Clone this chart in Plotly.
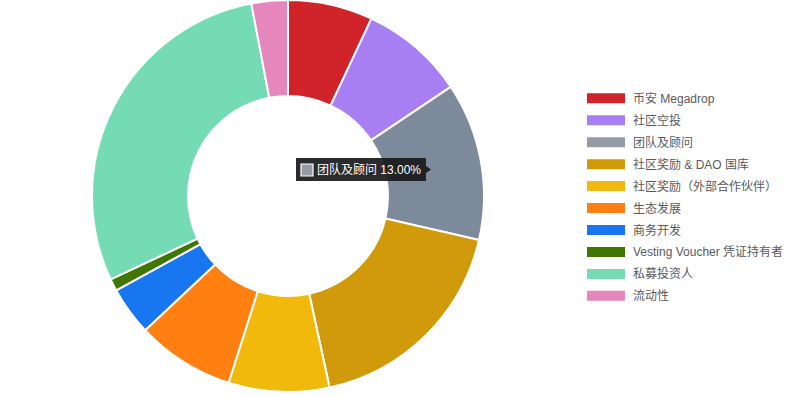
import plotly.graph_objects as go

labels = ["币安 Megadrop", "社区空投", "团队及顾问", "社区奖励 & DAO 国库",
          "社区奖励（外部合作伙伴）", "生态发展", "商务开发",
          "Vesting Voucher 凭证持有者", "私募投资人", "流动性"]
values = [7.0, 8.6, 13.0, 18.0, 8.3, 8.1, 4.0, 1.0, 29.0, 3.0]
colors = ["#d0232a", "#a87ff3", "#7c8a9c", "#d09a0a", "#f0b90b",
          "#ff7f10", "#1877f0", "#417600", "#74dbb4", "#e586bc"]
legend_colors = ["#d0232a", "#a87ff3", "#969ca6", "#d09a0a", "#f0b90b",
                 "#ff7f10", "#1877f0", "#417600", "#74dbb4", "#e586bc"]
tooltip_index = 2

W, H = 792, 396
FONT = "Liberation Sans, Noto Sans CJK SC, sans-serif"

cx, cy, r = 288, 195, 197
fig = go.Figure(go.Pie(
    labels=labels, values=values, sort=False, direction="clockwise", rotation=0,
    hole=0.51, textinfo="none", hoverinfo="label+percent",
    marker=dict(colors=colors, line=dict(color="white", width=2)),
    domain=dict(x=[(cx - r) / W, (cx + r) / W],
                y=[max(0, (H - cy - r) / H), min(1, (H - cy + r) / H)]),
    showlegend=False,
))

shapes = []
annotations = []
x0, y0, dy = 587, 98.3, 21.95
for i, (lab, col) in enumerate(zip(labels, legend_colors)):
    yc = y0 + i * dy
    shapes.append(dict(type="rect", xref="paper", yref="paper",
                       x0=x0 / W, x1=(x0 + 38) / W,
                       y0=1 - (yc + 5) / H, y1=1 - (yc - 5) / H,
                       fillcolor=col, line=dict(width=0)))
    annotations.append(dict(x=631 / W, y=1 - yc / H, xref="paper", yref="paper",
                            text=lab, showarrow=False, xanchor="left", yanchor="middle",
                            font=dict(family=FONT, size=12, color="#5a5a5a")))

# tooltip imitation
tx0, tx1, ty0, ty1 = 296, 426, 158, 181
shapes.append(dict(type="path", xref="paper", yref="paper",
                   path=f"M {tx0/W},{1-ty0/H} L {tx1/W},{1-ty0/H} L {tx1/W},{1-(ty0+8)/H} "
                        f"L {(tx1+5)/W},{1-(ty0+ty1)/2/H} L {tx1/W},{1-(ty1-8)/H} "
                        f"L {tx1/W},{1-ty1/H} L {tx0/W},{1-ty1/H} Z",
                   fillcolor="rgba(25,25,28,0.92)", line=dict(width=0)))
shapes.append(dict(type="rect", xref="paper", yref="paper",
                   x0=301 / W, x1=313 / W, y0=1 - 176 / H, y1=1 - 164 / H,
                   fillcolor=legend_colors[tooltip_index], line=dict(color="white", width=1.2)))
annotations.append(dict(x=315 / W, y=1 - 169.5 / H, xref="paper", yref="paper",
                        text=f"{labels[tooltip_index]} {values[tooltip_index]/sum(values)*100:.2f}%",
                        showarrow=False, xanchor="left", yanchor="middle",
                        font=dict(family=FONT, size=12, color="white")))

fig.update_layout(width=W, height=H, margin=dict(l=0, r=0, t=0, b=0),
                  paper_bgcolor="white", plot_bgcolor="white",
                  shapes=shapes, annotations=annotations,
                  font=dict(family=FONT))
fig.write_html("out.html", config={"displayModeBar": False},
               post_script="document.body.style.margin='0';")
